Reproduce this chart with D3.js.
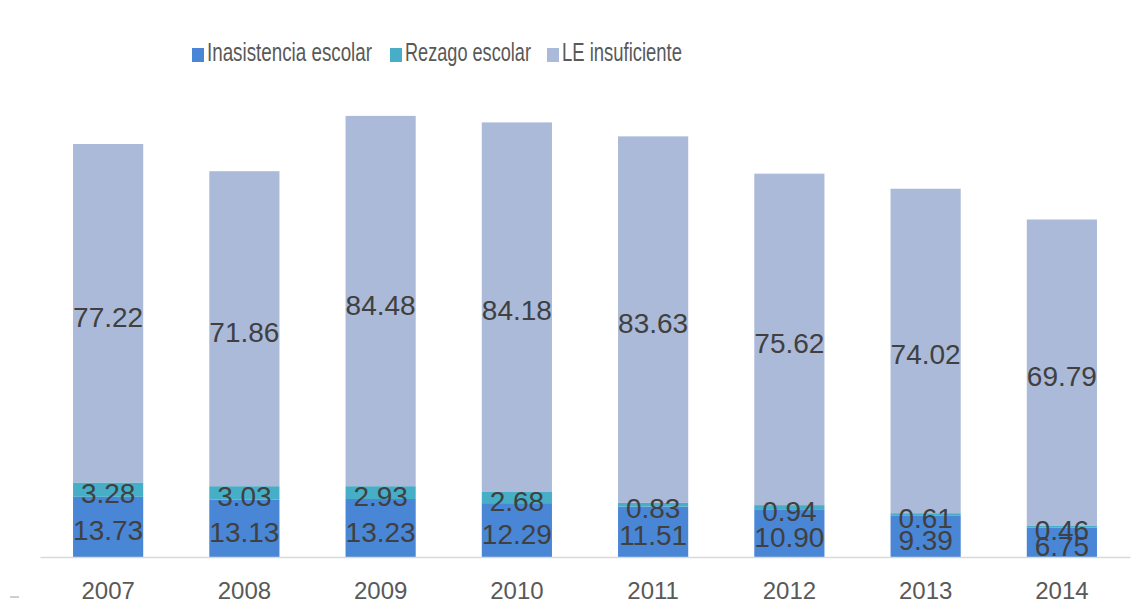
<!DOCTYPE html>
<html><head><meta charset="utf-8">
<script src="https://cdn.jsdelivr.net/npm/d3@7"></script>
<style>body{margin:0;background:#fff;}svg{display:block;}</style>
</head><body>
<svg id="chart" width="1136" height="601"></svg>
<script>
const years = ["2007","2008","2009","2010","2011","2012","2013","2014"];
const inasistencia = [13.73,13.13,13.23,12.29,11.51,10.90,9.39,6.75];
const rezago = [3.28,3.03,2.93,2.68,0.83,0.94,0.61,0.46];
const leInsuf = [77.22,71.86,84.48,84.18,83.63,75.62,74.02,69.79];
const seriesNames = ["Inasistencia escolar","Rezago escolar","LE insuficiente"];
const colors = ["#4a86d6","#46aec6","#abbad8"];

const svg = d3.select("#chart");
const font = "'Liberation Sans', Arial, sans-serif";
const x = d3.scaleBand().domain(years).range([40,1130]).paddingInner(0.485).paddingOuter(0.2425);
const y = d3.scaleLinear().domain([0,100]).range([557,118.7]);

const rows = years.map((yr,i)=>({year:yr, "Inasistencia escolar":inasistencia[i], "Rezago escolar":rezago[i], "LE insuficiente":leInsuf[i]}));
const stacked = d3.stack().keys(seriesNames)(rows);

const g = svg.append("g");
stacked.forEach((s,si)=>{
  g.selectAll(null).data(s).enter().append("rect")
    .attr("x", d=>x(d.data.year)).attr("width", x.bandwidth())
    .attr("y", d=>y(d[1])).attr("height", d=>y(d[0])-y(d[1]))
    .attr("fill", colors[si]);
});

// axis
const xAxis = d3.axisBottom(x).tickSize(0).tickPadding(25);
const ax = svg.append("g").attr("transform","translate(0,557)").call(xAxis);
ax.select(".domain").attr("stroke","#d9d9d9").attr("stroke-width",1.5);
ax.selectAll("text").attr("font-family",font).attr("font-size",24).attr("fill","#595959");

// labels
stacked.forEach((s,si)=>{
  g.selectAll(null).data(s).enter().append("text")
    .attr("x", d=>x(d.data.year)+x.bandwidth()/2)
    .attr("y", d=>(y(d[0])+y(d[1]))/2 + 4)
    .attr("text-anchor","middle").attr("dominant-baseline","central")
    .attr("font-family",font).attr("font-size",28).attr("fill","#404040")
    .text(d=>(d[1]-d[0]).toFixed(2));
});

// legend
const legendX = [192,390,547];
const legendW = [165,126,120];
seriesNames.forEach((n,i)=>{
  const lg = svg.append("g").attr("transform",`translate(${legendX[i]},0)`);
  lg.append("rect").attr("x",0).attr("y",48).attr("width",12).attr("height",14).attr("fill",colors[i]);
  lg.append("text").attr("x",15).attr("y",61)
    .attr("textLength",legendW[i]).attr("lengthAdjust","spacingAndGlyphs")
    .attr("font-family",font).attr("font-size",25).attr("fill","#595959").text(n);
});
// small stray mark
svg.append("line").attr("x1",10).attr("x2",19).attr("y1",597).attr("y2",597).attr("stroke","#bfbfbf").attr("stroke-width",1.5);
</script>
</body></html>
